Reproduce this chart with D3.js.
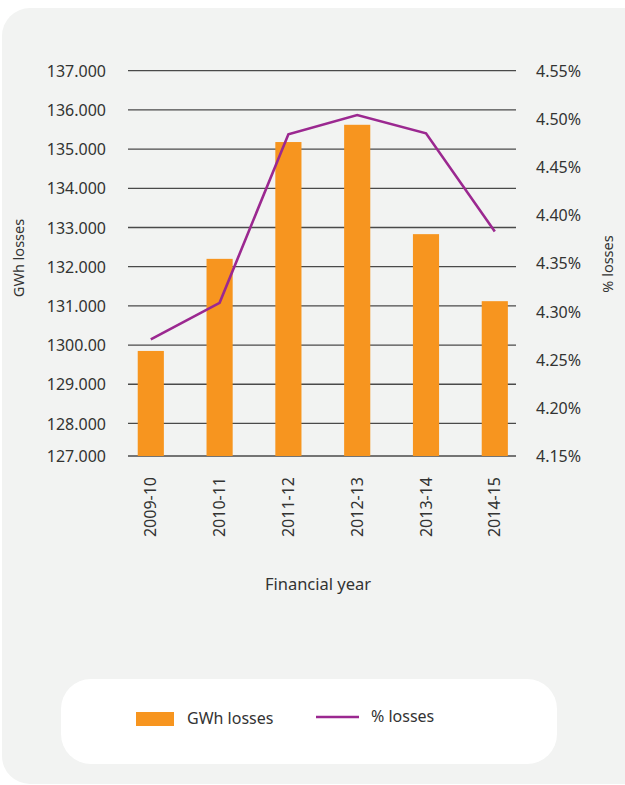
<!DOCTYPE html>
<html>
<head>
<meta charset="utf-8">
<script src="https://cdn.jsdelivr.net/npm/d3@7"></script>
<style>
  body { margin: 0; background: #fff; }
  text { font-family: "Noto Sans", sans-serif; fill: #333; }
</style>
</head>
<body>
<svg id="chart" width="625" height="785"></svg>
<script>
// data
const years = ["2009-10", "2010-11", "2011-12", "2012-13", "2013-14", "2014-15"];
const gwhLosses = [129.85, 132.20, 135.18, 135.62, 132.83, 131.12];
const pctLosses = [4.271, 4.309, 4.484, 4.504, 4.485, 4.383];

// left axis: the original's bottom tick sits a bit above 127, labels kept as printed
const leftTicks = [127.17, 128, 129, 130, 131, 132, 133, 134, 135, 136, 137];
const leftLabels = ["127.000", "128.000", "129.000", "1300.00", "131.000", "132.000",
                    "133.000", "134.000", "135.000", "136.000", "137.000"];
const rightTicks = [4.15, 4.20, 4.25, 4.30, 4.35, 4.40, 4.45, 4.50, 4.55];

const svg = d3.select('#chart');

// panel
svg.append('rect')
  .attr('x', 2).attr('y', 8)
  .attr('width', 650).attr('height', 776)
  .attr('rx', 28)
  .attr('fill', '#f2f3f2');

const plotTop = 70.7, plotBottom = 456;
const x = d3.scaleBand().domain(years).range([116.4, 529.2])
  .paddingInner(0.62).paddingOuter(0.31);
const yL = d3.scaleLinear().domain([127.17, 137]).range([plotBottom, plotTop]);
const yR = d3.scaleLinear().domain([4.15, 4.55]).range([plotBottom, plotTop]);

// gridlines
svg.append('g')
  .selectAll('line')
  .data(leftTicks)
  .enter()
  .append('line')
  .attr('x1', 128).attr('x2', 516)
  .attr('y1', d => yL(d)).attr('y2', d => yL(d))
  .attr('stroke', '#4a4a4a')
  .attr('stroke-width', 1.3);

// left axis
svg.append('g')
  .attr('transform', 'translate(106,0)')
  .call(d3.axisLeft(yL).tickValues(leftTicks).tickSize(0)
    .tickFormat((d, i) => leftLabels[i]))
  .call(g => g.select('.domain').remove())
  .call(g => g.selectAll('text')
    .attr('x', 0).attr('dy', '0.35em')
    .style('font-size', '16px').style('font-family', '"Noto Sans", sans-serif')
    .attr('fill', '#333'));

// right axis
svg.append('g')
  .attr('transform', 'translate(536,0)')
  .call(d3.axisRight(yR).tickValues(rightTicks).tickSize(0)
    .tickFormat(d => d3.format('.2f')(d) + '%'))
  .call(g => g.select('.domain').remove())
  .call(g => g.selectAll('text')
    .attr('x', 0).attr('dy', '0.35em')
    .style('font-size', '16px').style('font-family', '"Noto Sans", sans-serif')
    .attr('fill', '#333'));

// bars
svg.append('g')
  .selectAll('rect')
  .data(gwhLosses)
  .enter()
  .append('rect')
  .attr('x', (d, i) => x(years[i]))
  .attr('width', x.bandwidth())
  .attr('y', d => yL(d))
  .attr('height', d => plotBottom - yL(d))
  .attr('fill', '#f7951f');

// line
const line = d3.line()
  .x((d, i) => x(years[i]) + x.bandwidth() / 2)
  .y(d => yR(d));
svg.append('path')
  .datum(pctLosses)
  .attr('d', line)
  .attr('fill', 'none')
  .attr('stroke', '#9b2890')
  .attr('stroke-width', 2.6);

// x labels
svg.append('g')
  .selectAll('text')
  .data(years)
  .enter()
  .append('text')
  .attr('transform', d => 'translate(' + (x(d) + x.bandwidth() / 2 + 5.5) + ',477) rotate(-90)')
  .attr('text-anchor', 'end')
  .style('font-size', '16px')
  .text(d => d);

// axis titles
svg.append('text')
  .attr('transform', 'translate(24,258) rotate(-90)')
  .attr('text-anchor', 'middle')
  .style('font-size', '14.5px')
  .text('GWh losses');
svg.append('text')
  .attr('transform', 'translate(613,264) rotate(-90)')
  .attr('text-anchor', 'middle')
  .style('font-size', '14.5px')
  .text('% losses');
svg.append('text')
  .attr('x', 318).attr('y', 590)
  .attr('text-anchor', 'middle')
  .style('font-size', '16.5px')
  .text('Financial year');

// legend
svg.append('rect')
  .attr('x', 61).attr('y', 679)
  .attr('width', 496).attr('height', 85)
  .attr('rx', 30)
  .attr('fill', '#fff');
svg.append('rect')
  .attr('x', 136).attr('y', 712)
  .attr('width', 38).attr('height', 14)
  .attr('fill', '#f7951f');
svg.append('text')
  .attr('x', 187).attr('y', 724)
  .style('font-size', '16px')
  .text('GWh losses');
svg.append('line')
  .attr('x1', 316).attr('x2', 359)
  .attr('y1', 717).attr('y2', 717)
  .attr('stroke', '#9b2890')
  .attr('stroke-width', 2.6);
svg.append('text')
  .attr('x', 371).attr('y', 722)
  .style('font-size', '16px')
  .text('% losses');
</script>
</body>
</html>
